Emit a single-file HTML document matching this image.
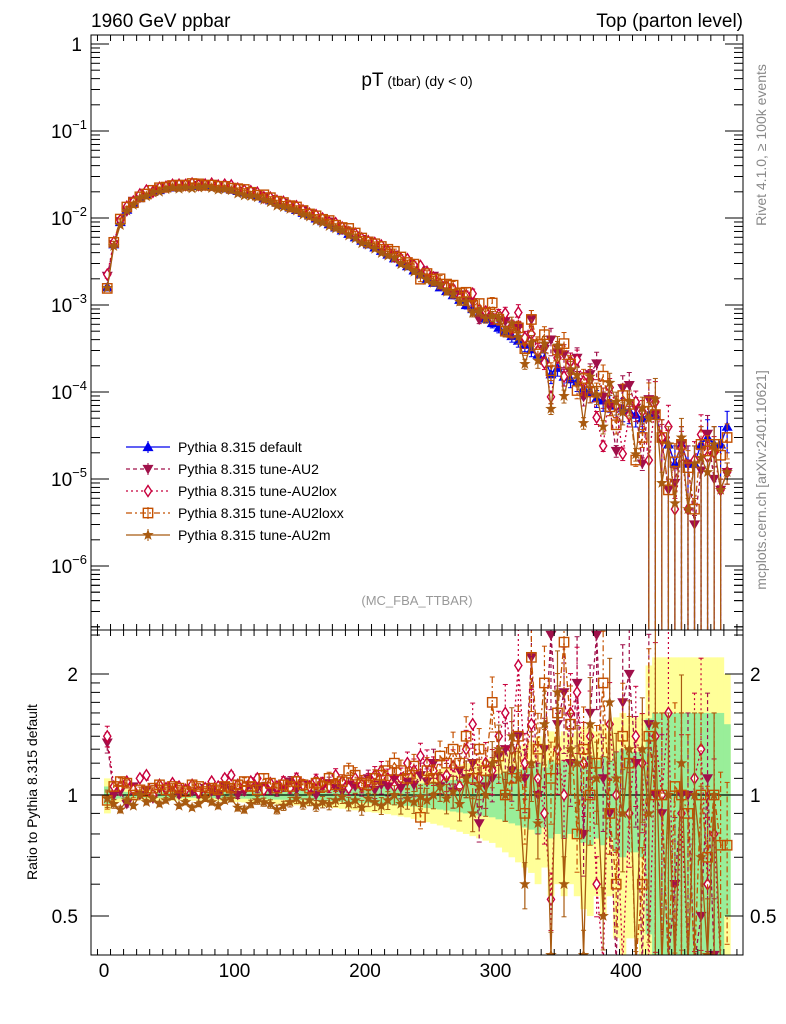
<!DOCTYPE html>
<html><head><meta charset="utf-8"><style>
html,body{margin:0;background:#fff;overflow:hidden;width:786px;height:1024px}
svg{font-family:"Liberation Sans",sans-serif;display:block}
</style></head><body>
<svg id="c" width="786" height="1024" viewBox="0 0 786 1024">
<defs>
<clipPath id="cm"><rect x="91" y="35" width="652" height="595"/></clipPath>
<clipPath id="cr"><rect x="91" y="630" width="652" height="325"/></clipPath>
</defs>
<text x="91" y="27" font-size="19">1960 GeV ppbar</text>
<text x="743" y="27" font-size="19" text-anchor="end">Top (parton level)</text>
<text x="417" y="86" text-anchor="middle"><tspan font-size="19">pT</tspan><tspan font-size="14"> (tbar) (dy &lt; 0)</tspan></text>
<text x="417" y="605" text-anchor="middle" font-size="13" fill="#999">(MC_FBA_TTBAR)</text>
<text transform="translate(766,145) rotate(-90)" text-anchor="middle" font-size="14" fill="#888">Rivet 4.1.0, ≥ 100k events</text>
<text transform="translate(766,480) rotate(-90)" text-anchor="middle" font-size="14" fill="#888">mcplots.cern.ch [arXiv:2401.10621]</text>
<text transform="translate(37,792) rotate(-90)" text-anchor="middle" font-size="14">Ratio to Pythia 8.315 default</text>
<g id="bands" clip-path="url(#cr)"></g>
<g id="main" clip-path="url(#cm)"></g>
<g id="ratio" clip-path="url(#cr)"></g>
<g id="axes"></g>
<g id="legend"></g>
</svg>
<script>
const xCenters=[];for(let i=0;i<96;i++)xCenters.push(2.5+5*i);
const defaultVals=[1.6e-3,5.0e-3,9e-3,1.25e-2,1.5e-2,1.7e-2,1.85e-2,2.0e-2,2.1e-2,2.2e-2,2.25e-2,2.3e-2,2.33e-2,2.35e-2,2.35e-2,2.33e-2,2.3e-2,2.25e-2,2.2e-2,2.12e-2,2.05e-2,1.97e-2,1.88e-2,1.78e-2,1.68e-2,1.6e-2,1.5e-2,1.42e-2,1.32e-2,1.24e-2,1.15e-2,1.07e-2,9.9e-3,9.2e-3,8.5e-3,7.8e-3,7.2e-3,6.6e-3,6.0e-3,5.5e-3,5.0e-3,4.6e-3,4.2e-3,3.8e-3,3.45e-3,3.1e-3,2.8e-3,2.5e-3,2.25e-3,2.0e-3,1.8e-3,1.6e-3,1.45e-3,1.3e-3,1.15e-3,1.0e-3,9e-4,8e-4,7e-4,6.2e-4,5.5e-4,5e-4,4.4e-4,3.9e-4,3.5e-4,3.1e-4,2.7e-4,2.4e-4,1.6e-4,1.9e-4,1.5e-4,1.4e-4,1.3e-4,1.1e-4,1.0e-4,8.5e-5,8e-5,7.5e-5,7e-5,6.5e-5,6e-5,5.5e-5,5e-5,5.5e-5,5.5e-5,3e-5,2.5e-5,1.5e-5,2.5e-5,1.5e-5,1.5e-5,2.5e-5,3e-5,2.5e-5,2.5e-5,4e-5];
const errRel=[0.05,0.025,0.02,0.018,0.016,0.016,0.016,0.016,0.016,0.016,0.016,0.016,0.016,0.016,0.016,0.017,0.017,0.018,0.018,0.019,0.02,0.021,0.022,0.023,0.024,0.025,0.026,0.027,0.028,0.029,0.03,0.031,0.032,0.033,0.034,0.036,0.038,0.04,0.042,0.044,0.046,0.048,0.05,0.052,0.055,0.058,0.06,0.064,0.068,0.072,0.076,0.08,0.085,0.09,0.095,0.1,0.105,0.11,0.115,0.12,0.13,0.14,0.15,0.16,0.17,0.18,0.2,0.17,0.22,0.2,0.22,0.2,0.22,0.24,0.25,0.22,0.25,0.22,0.28,0.3,0.28,0.28,0.3,0.55,0.6,0.6,0.6,0.6,0.6,0.6,0.6,0.6,0.6,0.6,0.6,0.5];
const ratioAU2=[1.35,1.0,1.02,0.95,1.05,1.0,1.03,0.98,1.04,1.02,1.05,1.0,1.03,1.02,1.0,1.04,1.02,1.0,1.05,1.03,1.0,1.02,1.06,1.04,1.05,1.03,1.02,1.05,1.08,1.03,1.06,1.04,1.0,1.05,1.07,1.04,1.02,1.06,1.05,1.04,1.1,1.03,1.06,1.05,1.1,1.04,1.08,1.06,1.12,1.08,1.2,1.05,1.1,1.02,1.15,1.1,1.2,0.85,1.05,1.1,1.25,1.3,1.15,1.4,1.1,2.2,1.0,1.3,2.5,1.5,1.8,1.2,1.9,0.8,1.6,2.5,1.1,0.9,0.3,1.7,2.0,1.2,0.3,1.5,1.0,0.9,0.3,0.6,1.0,1.0,0.2,0.5,1.1,0.4,0.3,0.3];
const ratioLox=[1.4,1.05,1.05,1.08,1.03,1.1,1.12,1.0,1.06,1.04,1.07,1.05,1.03,1.06,1.02,1.04,1.08,1.05,1.1,1.12,1.06,1.05,1.08,1.1,1.03,1.07,1.05,1.08,1.04,1.1,1.06,1.05,1.09,1.07,1.05,1.12,1.08,1.04,1.1,1.06,1.08,1.12,1.15,1.1,1.05,1.1,1.2,1.15,1.25,1.2,1.15,1.1,1.12,1.18,1.05,1.3,1.5,1.1,1.2,1.15,1.4,1.6,1.3,2.1,1.2,1.5,1.1,0.9,0.55,1.3,1.0,1.6,1.8,1.2,1.4,0.6,0.3,1.5,1.0,0.3,0.9,1.4,1.2,0.3,1.4,1.0,1.6,0.3,0.9,0.3,1.1,1.3,0.6,0.8,0.3,0.3];
const ratioLoxx=[0.97,1.05,1.08,1.07,1.0,1.03,1.02,1.04,1.06,1.03,1.05,1.04,1.02,1.06,1.05,1.02,1.04,1.03,1.05,1.04,1.06,1.08,1.05,1.03,1.1,1.07,1.04,1.06,1.05,1.08,1.06,1.04,1.07,1.05,1.1,1.06,1.08,1.15,1.12,1.07,1.06,1.1,1.12,1.15,1.2,1.15,1.1,1.18,0.88,1.15,1.1,1.25,1.2,1.3,1.2,1.4,1.1,1.3,1.15,1.7,1.25,1.0,1.1,1.4,0.9,2.2,1.3,1.9,1.1,1.6,2.4,1.5,0.8,1.3,1.0,1.2,1.9,0.9,0.6,1.4,1.2,0.3,0.6,1.4,1.0,1.0,0.3,1.05,1.0,0.9,0.3,1.0,0.7,1.0,0.75,0.75];
const ratioAU2m=[0.98,0.95,0.92,0.97,0.94,1.0,0.96,0.98,0.95,0.97,0.99,0.94,0.96,0.93,0.95,0.98,0.96,0.94,0.97,0.98,0.93,0.92,0.95,0.97,0.96,0.95,0.92,0.94,0.96,0.98,0.95,0.97,0.94,0.96,0.95,0.97,0.99,0.95,0.97,0.93,0.98,0.96,0.94,0.97,1.0,0.95,0.98,0.96,0.99,0.97,1.0,1.05,0.98,1.02,0.95,1.1,0.9,1.05,1.0,1.2,1.3,1.0,1.4,1.1,0.6,1.2,0.85,1.5,0.4,1.8,0.6,1.3,1.2,0.4,1.5,1.1,0.5,1.7,1.1,0.9,1.3,0.35,1.3,0.9,1.5,0.3,1.0,0.35,1.2,0.3,1.0,0.7,0.4,1.0,0.3,0.3];
const xTicks=[0,100,200,300,400];
const mainTickExps=[0,-1,-2,-3,-4,-5,-6];
const ratioTicks=[0.5,1,2];
const seriesNames=["Pythia 8.315 default","Pythia 8.315 tune-AU2","Pythia 8.315 tune-AU2lox","Pythia 8.315 tune-AU2loxx","Pythia 8.315 tune-AU2m"];

const NS="http://www.w3.org/2000/svg";
const X=v=>104+v*1.305;
const YM=v=>44-87*Math.log10(v);
const YR=v=>795-402*Math.log10(v);
const clampY=(y,lo,hi)=>Math.max(lo,Math.min(hi,y));
function mk(p,tag,at){const e=document.createElementNS(NS,tag);for(const k in at)e.setAttribute(k,at[k]);p.appendChild(e);return e;}
const G=id=>document.getElementById(id);

const bands=G('bands');
[[2,'#ffff99'],[1,'#99ee99']].forEach(([f,col])=>{
  xCenters.forEach((c,i)=>{
    const lo=Math.max(1-f*errRel[i],0.4),hi=1+f*errRel[i];
    const y1=clampY(YR(hi),630,955),y2=clampY(YR(lo),630,955);
    const r=mk(bands,'rect',{x:X(c-2.5),y:y1,width:1.305*5+0.3,height:y2-y1,fill:col});
    
    
  });
});
mk(G('ratio'),'line',{x1:91,x2:743,y1:YR(1),y2:YR(1),stroke:'#000','stroke-width':1.2});

const styles=[
 {col:'#0000ee',dash:'',mk:'tri'},
 {col:'#a0104a',dash:'4,3',mk:'tridown'},
 {col:'#c8003c',dash:'2,3',mk:'diamond'},
 {col:'#c45000',dash:'6,3,2,3',mk:'square'},
 {col:'#a85a10',dash:'',mk:'star'}];
const ratios=[null,ratioAU2,ratioLox,ratioLoxx,ratioAU2m];

function marker(p,type,x,y,col,s){
  let e;
  if(type=='tri')e=mk(p,'polygon',{points:`${x},${y-s} ${x-s},${y+s*0.75} ${x+s},${y+s*0.75}`,fill:col});
  else if(type=='tridown')e=mk(p,'polygon',{points:`${x},${y+s} ${x-s},${y-s*0.75} ${x+s},${y-s*0.75}`,fill:col});
  else if(type=='diamond')e=mk(p,'polygon',{points:`${x},${y-s} ${x-s*0.65},${y} ${x},${y+s} ${x+s*0.65},${y}`,fill:'#fff',stroke:col,'stroke-width':1.4});
  else if(type=='square')e=mk(p,'rect',{x:x-s*0.85,y:y-s*0.85,width:s*1.7,height:s*1.7,fill:'none',stroke:col,'stroke-width':1.4});
  else{let pts=[];for(let k=0;k<10;k++){const r=k%2?s*0.45:s*1.1;const a=-Math.PI/2+k*Math.PI/5;pts.push((x+r*Math.cos(a)).toFixed(1)+','+(y+r*Math.sin(a)).toFixed(1));}
    e=mk(p,'polygon',{points:pts.join(' '),fill:col});}
  return e;
}

function drawSeries(g,si,isMain){
  const st=styles[si];
  const grp=mk(g,'g',{});
  
  
  const top=isMain?35:630, bot=isMain?630:955;
  const vals=xCenters.map((c,i)=>{const r=si==0?1:ratios[si][i];return isMain?defaultVals[i]*r:r;});
  const Y=v=>clampY(isMain?YM(v):YR(v),top-8,bot+8);
  const pts=vals.map((v,i)=>X(xCenters[i]).toFixed(1)+','+Y(v).toFixed(1));
  mk(grp,'polyline',{points:pts.join(' '),fill:'none',stroke:st.col,'stroke-width':1.3,'stroke-dasharray':st.dash});
  vals.forEach((v,i)=>{
    const x=X(xCenters[i]);
    const e=errRel[i]*(si==0?1:Math.sqrt(ratios[si][i]));
    const hi=v*(1+e), lo=v*(1-e);
    const toBottom=isMain&&errRel[i]>=0.55;
    const yh=Y(hi), yl=toBottom?bot:Y(lo);
    mk(grp,'line',{x1:x,x2:x,y1:yh,y2:yl,stroke:st.col,'stroke-width':1.2,'stroke-dasharray':st.dash});
    mk(grp,'line',{x1:x-2.5,x2:x+2.5,y1:yh,y2:yh,stroke:st.col,'stroke-width':1});
    if(!toBottom)mk(grp,'line',{x1:x-2.5,x2:x+2.5,y1:yl,y2:yl,stroke:st.col,'stroke-width':1});
    const m=marker(grp,st.mk,x,Y(v),st.col,5.5);
    
    
  });
}
[0,1,2,3,4].forEach(si=>drawSeries(G('main'),si,true));
[1,2,3,4].forEach(si=>drawSeries(G('ratio'),si,false));

const ax=G('axes');
mk(ax,'rect',{x:91,y:35,width:652,height:595,fill:'none',stroke:'#000','stroke-width':1});
mk(ax,'rect',{x:91,y:630,width:652,height:325,fill:'none',stroke:'#000','stroke-width':1});
for(let v=-5;v<=490;v+=10){
  const x=X(v);if(x<91||x>743)continue;
  const maj=v%100==0, L=maj?13:6;
  [[35,1],[630,-1],[630,1],[955,-1]].forEach(([y0,d])=>mk(ax,'line',{x1:x,x2:x,y1:y0,y2:y0+d*L,stroke:'#000'}));
}
xTicks.forEach(v=>{const t=mk(ax,'text',{x:X(v),y:977,'text-anchor':'middle','font-size':19});t.textContent=v;
  });
mainTickExps.forEach(e=>{
  const y=YM(Math.pow(10,e));
  [[91,1],[743,-1]].forEach(([x0,d])=>mk(ax,'line',{x1:x0,x2:x0+d*18,y1:y,y2:y,stroke:'#000'}));
  for(let m=2;m<=9;m++){const ym=YM(m*Math.pow(10,e-1));if(ym<35||ym>630)continue;
    [[91,1],[743,-1]].forEach(([x0,d])=>mk(ax,'line',{x1:x0,x2:x0+d*9,y1:ym,y2:ym,stroke:'#000'}));}
  const t=mk(ax,'text',{x:e==0?82:87,y:y+7,'text-anchor':'end','font-size':19});
  
  if(e==0)t.textContent='1';else t.innerHTML='10<tspan font-size="13" dy="-9">−'+(-e)+'</tspan>';
});
for(let m=2;m<=9;m++){const ym=YM(m*1e-7);if(ym<630){[[91,1],[743,-1]].forEach(([x0,d])=>mk(ax,'line',{x1:x0,x2:x0+d*9,y1:ym,y2:ym,stroke:'#000'}));}}
[0.4,0.5,0.6,0.7,0.8,0.9,1,1.1,1.2,1.3,1.4,1.5,1.6,1.7,1.8,1.9,2,2.5].forEach(v=>{
  const y=YR(v);if(y<630||y>955)return;const maj=ratioTicks.includes(v);
  [[91,1],[743,-1]].forEach(([x0,d])=>mk(ax,'line',{x1:x0,x2:x0+d*(maj?18:9),y1:y,y2:y,stroke:'#000'}));
});
ratioTicks.forEach(v=>{const y=YR(v);
  const t=mk(ax,'text',{x:78,y:y+7,'text-anchor':'end','font-size':19});t.textContent=v;
  
  const t2=mk(ax,'text',{x:750,y:y+7,'font-size':19});t2.textContent=v;
  });

const lg=G('legend');
seriesNames.forEach((n,i)=>{
  const y=447+i*22, st=styles[i];
  const g=mk(lg,'g',{});
  
  
  mk(g,'line',{x1:126,x2:170,y1:y,y2:y,stroke:st.col,'stroke-width':1.2,'stroke-dasharray':st.dash});
  mk(g,'line',{x1:148,x2:148,y1:y-6,y2:y+6,stroke:st.col,'stroke-width':1.1});
  marker(g,st.mk,148,y,st.col,5.5);
  const t=mk(g,'text',{x:178,y:y+5,'font-size':14});t.textContent=n;
});
</script>
</body></html>
